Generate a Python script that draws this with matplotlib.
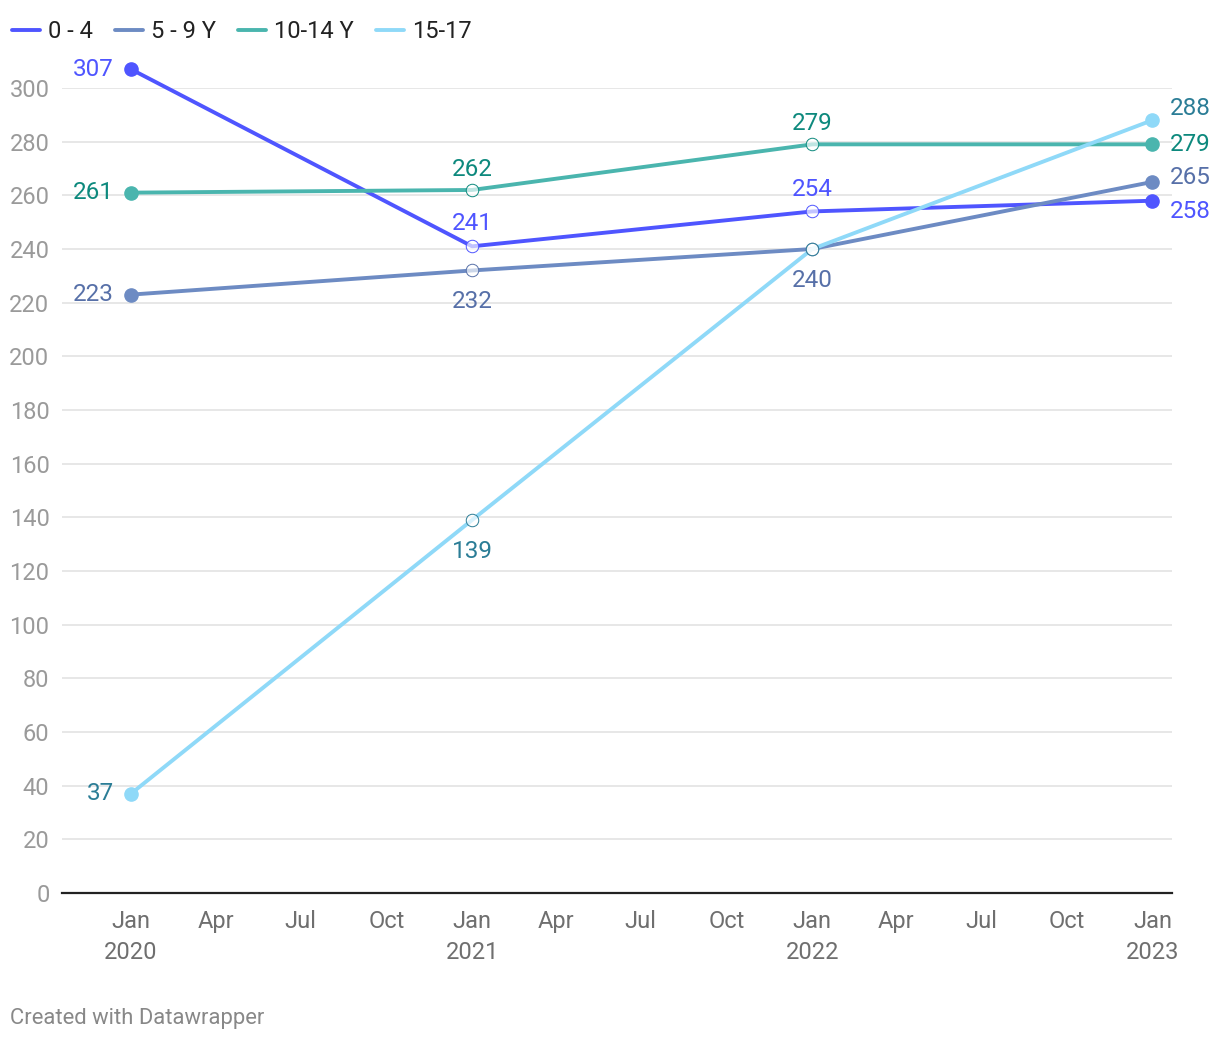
import datetime as dt
import matplotlib
matplotlib.use('Agg')
import matplotlib.pyplot as plt
import matplotlib.dates as mdates
from matplotlib.lines import Line2D

plt.rcParams['font.family'] = ['Roboto', 'DejaVu Sans']

years = [2020, 2021, 2022, 2023]
series_names = ['0 - 4', '5 - 9 Y', '10-14 Y', '15-17']
age_0_4 = [307, 241, 254, 258]
age_5_9 = [223, 232, 240, 265]
age_10_14 = [261, 262, 279, 279]
age_15_17 = [37, 139, 240, 288]

line_colors = ['#4f55ff', '#6d8bc3', '#4ab5ae', '#8fd9f8']
text_colors = ['#4f55ff', '#5770a8', '#0d897d', '#2b7d96']
# where each value label goes: (dx px, dy px, ha, va), None = no label
label_pos = [
    [(-17, 0, 'right', 'center'), (0, 11, 'center', 'bottom'), (0, 10, 'center', 'bottom'), (17, -11, 'left', 'center')],
    [(-17, 0, 'right', 'center'), (0, -20, 'center', 'top'), (0, -20, 'center', 'top'), (17, 4, 'left', 'center')],
    [(-17, 0, 'right', 'center'), (0, 9, 'center', 'bottom'), (0, 9, 'center', 'bottom'), (17, 0, 'left', 'center')],
    [(-17, 0, 'right', 'center'), (0, -20, 'center', 'top'), None, (17, 12, 'left', 'center')],
]

data = [age_0_4, age_5_9, age_10_14, age_15_17]
dates = [dt.datetime(y, 1, 1) for y in years]
xs = mdates.date2num(dates)

fig = plt.figure(figsize=(12.2, 10.4), dpi=100)
W, H = 1220, 1040
ax = fig.add_axes([62 / W, (H - 893) / H, (1172 - 62) / W, (893 - 88) / H])

for i, vals in enumerate(data):
    c = line_colors[i]
    ax.plot(xs, vals, color=c, lw=2.8, solid_capstyle='round', zorder=3, clip_on=False)
    ax.plot([xs[0], xs[-1]], [vals[0], vals[-1]], 'o', color=c, ms=9.5, zorder=4, clip_on=False)
    ax.plot(xs[1:-1], vals[1:-1], 'o', mfc=(1, 1, 1, 0.65), mec=text_colors[i], mew=0.7, ms=9,
            zorder=4, clip_on=False)
    for j, v in enumerate(vals):
        if label_pos[i][j] is None:
            continue
        dx, dy, ha, va = label_pos[i][j]
        ax.annotate(str(v), (xs[j], v), xytext=(dx * 0.72, dy * 0.72), textcoords='offset points',
                    ha=ha, va=va, fontsize=17.5, color=text_colors[i], zorder=5,
                    annotation_clip=False)

x0 = mdates.date2num(dt.datetime(2019, 10, 19))
x1 = mdates.date2num(dt.datetime(2023, 1, 22))
ax.set_xlim(x0, x1)
ax.set_ylim(0, 300)
ax.set_yticks(range(0, 301, 20))
ax.grid(axis='y', color='#e3e3e3', lw=1.2)
ax.set_axisbelow(True)
for s in ['top', 'right', 'left']:
    ax.spines[s].set_visible(False)
ax.spines['bottom'].set_color('#222222')
ax.spines['bottom'].set_linewidth(1.6)
ax.spines['bottom'].set_zorder(2)

ax.xaxis.set_major_locator(mdates.MonthLocator(bymonth=[1, 4, 7, 10]))


def fmt(x, pos):
    d = mdates.num2date(x)
    if d.month == 1:
        return d.strftime('%b') + '\n' + str(d.year)
    return d.strftime('%b')


ax.xaxis.set_major_formatter(plt.FuncFormatter(fmt))
ax.tick_params(axis='x', length=0, pad=12.5, labelsize=17, labelcolor='#6f6f6f')
ax.tick_params(axis='y', length=0, pad=9, labelsize=17, labelcolor='#9a9a9a')
for t in ax.get_xticklabels():
    t.set_linespacing(1.4)
    t.set_verticalalignment('top')

# legend
lx = 12
for name, c in zip(series_names, line_colors):
    fig.add_artist(Line2D([lx / W, (lx + 28) / W], [1 - 30 / H, 1 - 30 / H], color=c, lw=2.8,
                          solid_capstyle='round'))
    t = fig.text((lx + 36) / W, 1 - 31.5 / H, name, fontsize=17, color='#222222', va='center')
    fig.canvas.draw()
    bb = t.get_window_extent()
    lx = bb.x1 + 22

fig.text(10 / W, 1 - 1018.5 / H, 'Created with Datawrapper', fontsize=15.8, color='#888888', va='center')

fig.savefig('out.png', dpi=100)
